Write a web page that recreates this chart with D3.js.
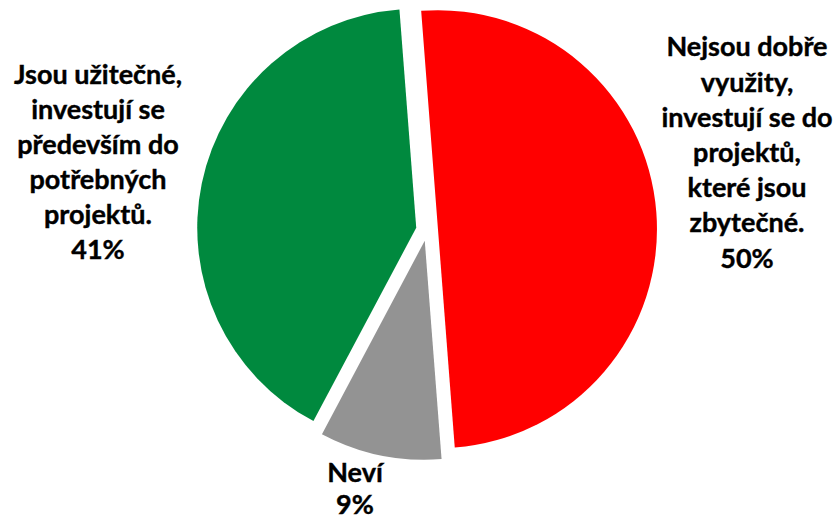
<!DOCTYPE html>
<html><head><meta charset="utf-8">
<script src="https://cdn.jsdelivr.net/npm/d3@7"></script>
<style>html,body{margin:0;padding:0;background:#fff;}svg{display:block;}</style>
</head><body>
<svg id="chart" width="838" height="519"></svg>
<script>
const categories = ["Nejsou dobře využity, investují se do projektů, které jsou zbytečné.", "Neví", "Jsou užitečné, investují se především do potřebných projektů."];
const values = [50, 9, 41];
const labelLines = [
  ["Nejsou dobře", "využity,", "investují se do", "projektů,", "které jsou", "zbytečné.", "50%"],
  ["Neví", "9%"],
  ["Jsou užitečné,", "investují se", "především do", "potřebných", "projektů.", "41%"]
];
const colors = ["#FF0000", "#939393", "#00893E"];

const svg = d3.select("#chart");
const cx = 427, cy = 230, r = 219, explode = 11;
const startDeg = -4.4;
const pie = d3.pie().sort(null).value(d => d)
  .startAngle(startDeg * Math.PI / 180)
  .endAngle((startDeg + 360) * Math.PI / 180);
const arcs = pie(values);
const arc = d3.arc().innerRadius(0).outerRadius(r);
const g = svg.append("g").attr("transform", `translate(${cx},${cy})`);
g.selectAll("path").data(arcs).enter().append("path")
  .attr("d", arc)
  .attr("fill", (d, i) => colors[i])
  .attr("transform", d => {
    const m = (d.startAngle + d.endAngle) / 2;
    return `translate(${explode * Math.sin(m)},${-explode * Math.cos(m)})`;
  });

const labelPos = [[747, 47], [355, 473], [98, 75]];
const lineH = [35.2, 32, 35];
labelLines.forEach((lines, i) => {
  const t = svg.append("text")
    .attr("text-anchor", "middle")
    .attr("font-family", "Lato, 'Open Sans', sans-serif")
    .attr("font-weight", "bold")
    .attr("font-size", 27)
    .attr("fill", "#000")
    .attr("stroke", "#000")
    .attr("stroke-width", 0.4);
  lines.forEach((ln, j) => {
    t.append("tspan").attr("x", labelPos[i][0])
      .attr("y", labelPos[i][1] + j * lineH[i])
      .attr("dy", "0.35em").text(ln);
  });
});
</script>
</body></html>
